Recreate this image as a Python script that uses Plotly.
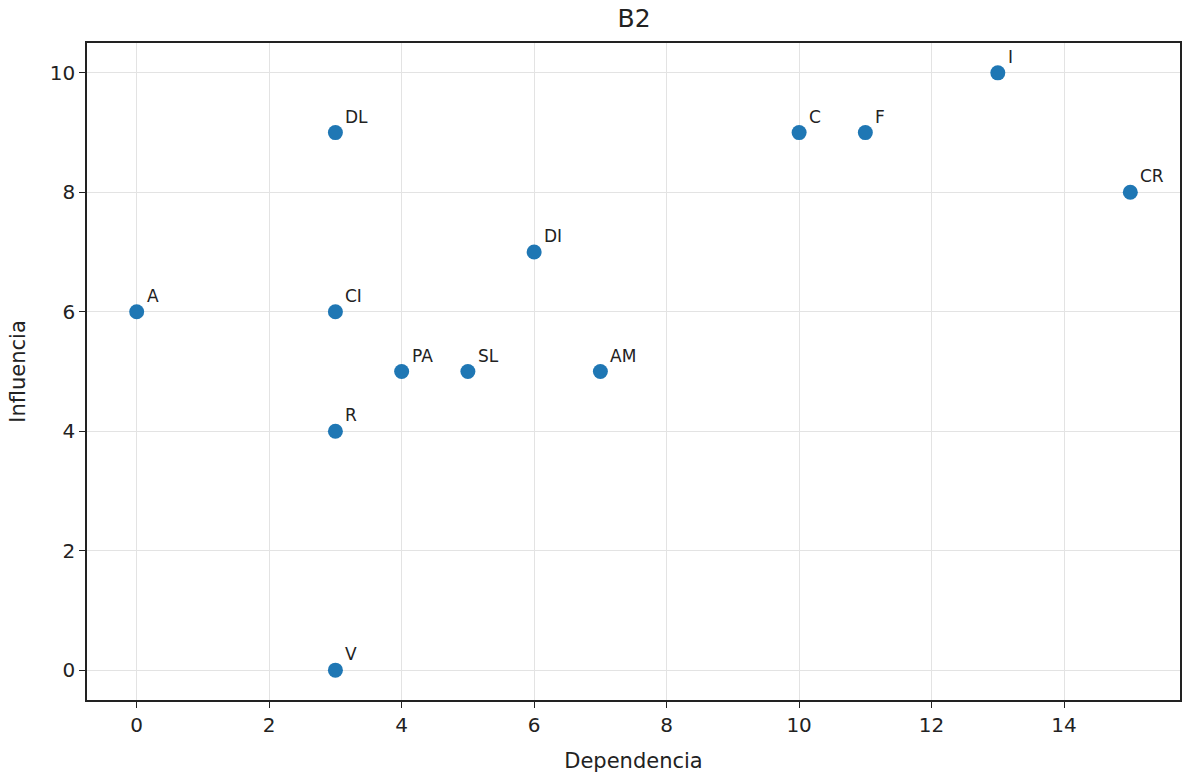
import plotly.graph_objects as go

labels = ["A", "CI", "DL", "R", "V", "PA", "SL", "DI", "AM", "C", "F", "I", "CR"]
dependencia = [0, 3, 3, 3, 3, 4, 5, 6, 7, 10, 11, 13, 15]
influencia = [6, 6, 9, 4, 0, 5, 5, 7, 5, 9, 9, 10, 8]

x_ticks = [0, 2, 4, 6, 8, 10, 12, 14]
y_ticks = [0, 2, 4, 6, 8, 10]

FONT = "DejaVu Sans"
fig = go.Figure()
fig.add_trace(go.Scatter(
    x=dependencia, y=influencia, mode="markers",
    marker=dict(color="#1f77b4", size=15, line=dict(width=0)),
    showlegend=False, hoverinfo="text", text=labels,
))

for lab, xv, yv in zip(labels, dependencia, influencia):
    fig.add_annotation(
        x=xv, y=yv, text=lab, showarrow=False,
        xanchor="left", yanchor="bottom", xshift=9, yshift=5,
        borderpad=0,
        font=dict(family=FONT, size=17, color="#222222"),
    )

axis_common = dict(
    showline=True, linecolor="#222222", linewidth=1.5, mirror=True,
    ticks="outside", ticklen=6, tickwidth=1.3, tickcolor="#222222",
    showgrid=True, gridcolor="#e3e3e3", gridwidth=1.2,
    zeroline=False,
    tickfont=dict(family=FONT, size=20, color="#222222"),
)

fig.update_xaxes(
    range=[-0.75, 15.75], tickvals=x_ticks,
    title=dict(text="Dependencia", font=dict(family=FONT, size=21, color="#222222"), standoff=18),
    **axis_common,
)
fig.update_yaxes(
    range=[-0.5, 10.5], tickvals=y_ticks,
    title=dict(text="Influencia", font=dict(family=FONT, size=21, color="#222222"), standoff=18),
    **axis_common,
)

fig.update_layout(
    width=1183, height=780,
    margin=dict(l=87, r=1, t=43, b=80),
    paper_bgcolor="white", plot_bgcolor="white",
    title=dict(text="B2", x=0.536, xanchor="center", y=0.988, yanchor="top",
               font=dict(family=FONT, size=25, color="#222222")),
)

fig.write_html("out.html")
